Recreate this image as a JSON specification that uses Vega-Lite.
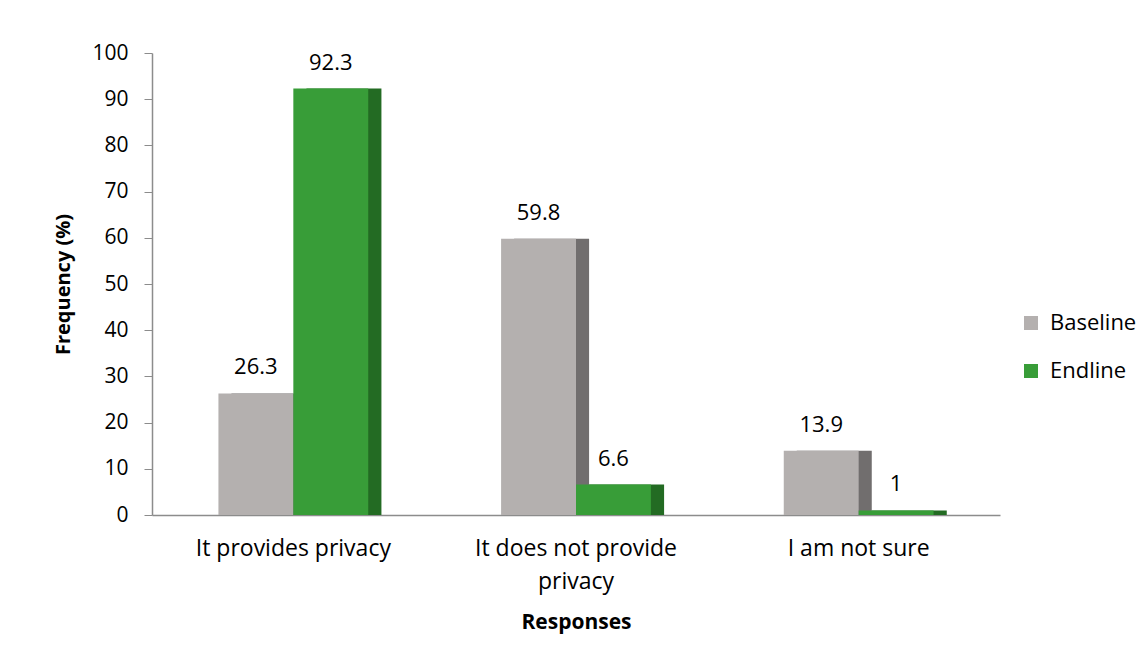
{
  "$schema": "https://vega.github.io/schema/vega-lite/v6.json",
  "width": 848,
  "height": 462,
  "autosize": "none",
  "padding": {"left": 152, "top": 53, "right": 146, "bottom": 157},
  "background": "white",
  "config": {"view": {"stroke": null}, "font": "Open Sans"},
  "data": {
    "values": [
      {"response": "It provides privacy", "series": "Baseline", "value": 26.3},
      {"response": "It provides privacy", "series": "Endline", "value": 92.3},
      {"response": "It does not provide privacy", "series": "Baseline", "value": 59.8},
      {"response": "It does not provide privacy", "series": "Endline", "value": 6.6},
      {"response": "I am not sure", "series": "Baseline", "value": 13.9},
      {"response": "I am not sure", "series": "Endline", "value": 1}
    ]
  },
  "encoding": {
    "x": {
      "field": "response",
      "type": "nominal",
      "sort": ["It provides privacy", "It does not provide privacy", "I am not sure"],
      "scale": {"paddingInner": 0.47, "paddingOuter": 0.235},
      "axis": {
        "title": "Responses",
        "titleFont": "Open Sans",
        "titleFontSize": 21,
        "titleFontWeight": "bold",
        "titleColor": "#000000",
        "titlePadding": 18,
        "labelFont": "Open Sans",
        "labelFontSize": 23,
        "labelColor": "#000000",
        "labelAngle": 0,
        "labelPadding": 22,
        "labelLimit": 400,
        "labelLineHeight": 33,
        "labelExpr": "datum.value == 'It does not provide privacy' ? ['It does not provide', 'privacy'] : datum.value",
        "ticks": false,
        "domainColor": "#8c8c8c",
        "domainWidth": 1.5
      }
    },
    "y": {
      "field": "value",
      "type": "quantitative",
      "scale": {"domain": [0, 100]},
      "axis": {
        "title": "Frequency (%)",
        "titleFont": "Open Sans",
        "titleFontSize": 20,
        "titleFontWeight": "bold",
        "titleColor": "#000000",
        "titlePadding": 18,
        "values": [0, 10, 20, 30, 40, 50, 60, 70, 80, 90, 100],
        "labelFont": "Open Sans",
        "labelFontSize": 21,
        "labelColor": "#000000",
        "labelPadding": 16,
        "tickSize": 8,
        "tickColor": "#8c8c8c",
        "domainColor": "#8c8c8c",
        "domainWidth": 1.5,
        "grid": false
      }
    }
  },
  "layer": [
    {
      "mark": {"type": "bar", "width": {"band": 1}},
      "encoding": {
        "xOffset": {
          "field": "series",
          "type": "nominal",
          "sort": ["Baseline", "Endline"],
          "scale": {"range": [13, 163], "paddingInner": 0, "paddingOuter": 0}
        },
        "color": {
          "field": "series",
          "type": "nominal",
          "scale": {"domain": ["Baseline", "Endline"], "range": ["#716e6e", "#236b23"]},
          "legend": null
        }
      }
    },
    {
      "layer": [
        {
          "mark": {"type": "bar", "width": {"band": 1}},
          "encoding": {
            "color": {
              "field": "series",
              "type": "nominal",
              "scale": {"domain": ["Baseline", "Endline"], "range": ["#b4b0af", "#389d38"]},
              "legend": {
                "title": null,
                "orient": "none",
                "legendX": 868,
                "legendY": 259,
                "symbolType": "square",
                "symbolSize": 196,
                "symbolStrokeWidth": 0,
                "labelFont": "Open Sans",
                "labelFontSize": 22,
                "labelColor": "#000000",
                "labelOffset": 8,
                "rowPadding": 26
              }
            }
          }
        },
        {
          "mark": {"type": "text", "baseline": "alphabetic", "dy": -19, "fontSize": 22, "color": "#000000", "font": "Open Sans"},
          "encoding": {"text": {"field": "value", "type": "quantitative"}}
        }
      ],
      "encoding": {
        "xOffset": {
          "field": "series",
          "type": "nominal",
          "sort": ["Baseline", "Endline"],
          "scale": {"paddingInner": 0, "paddingOuter": 0}
        }
      }
    }
  ],
  "resolve": {"scale": {"color": "independent", "xOffset": "independent"}}
}
